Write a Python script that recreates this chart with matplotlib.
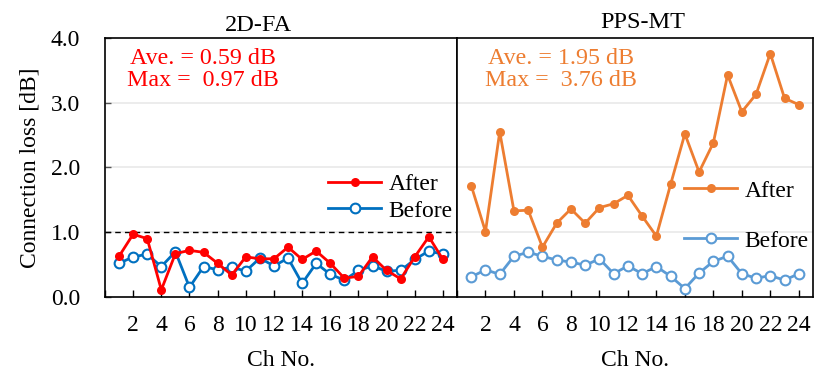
import numpy as np
import matplotlib
matplotlib.use('Agg')
import matplotlib.pyplot as plt

plt.rcParams['font.family'] = ['Liberation Serif', 'DejaVu Serif']

ch = np.arange(1, 25)

# 2D-FA
fa_after = [0.63, 0.97, 0.90, 0.11, 0.67, 0.72, 0.69, 0.52, 0.34, 0.62, 0.59, 0.59,
            0.77, 0.58, 0.71, 0.52, 0.29, 0.32, 0.62, 0.41, 0.28, 0.62, 0.93, 0.58]
fa_before = [0.52, 0.62, 0.66, 0.47, 0.70, 0.15, 0.47, 0.42, 0.46, 0.40, 0.60, 0.48,
             0.60, 0.21, 0.52, 0.35, 0.26, 0.41, 0.48, 0.40, 0.41, 0.58, 0.71, 0.66]

# PPS-MT
mt_after = [1.72, 1.01, 2.55, 1.33, 1.34, 0.77, 1.14, 1.36, 1.14, 1.38, 1.44, 1.57,
            1.25, 0.94, 1.74, 2.52, 1.93, 2.38, 3.43, 2.86, 3.13, 3.76, 3.07, 2.97]
mt_before = [0.31, 0.42, 0.35, 0.63, 0.69, 0.63, 0.57, 0.54, 0.49, 0.59, 0.36, 0.48,
             0.36, 0.47, 0.32, 0.13, 0.37, 0.55, 0.63, 0.36, 0.29, 0.33, 0.26, 0.36]

titles = ['2D-FA', 'PPS-MT']
ave_text = ['Ave. = 0.59 dB\nMax =  0.97 dB', 'Ave. = 1.95 dB\nMax =  3.76 dB']

FS = 17

fig = plt.figure(figsize=(8.19, 3.75), dpi=100)
ax1 = fig.add_axes([0.1282, 0.208, 0.4298, 0.6907])
ax2 = fig.add_axes([0.558, 0.208, 0.4347, 0.6907])

panels = [
    (ax1, fa_after, fa_before, '#FF0000', '#0070C0'),
    (ax2, mt_after, mt_before, '#ED7D31', '#5B9BD5'),
]
text_x = [0.279, 0.292]
title_x = [0.436, 0.521]
title_pad = [5, 7]
leg_anchor = [(0.634, 0.384), (0.638, 0.313)]
leg_space = [0.22, 1.2]

for i, (ax, after, before, c_after, c_before) in enumerate(panels):
    for g in [1, 2, 3]:
        ax.axhline(g, color='#EBEBEB', lw=1.3, zorder=0)
    ax.plot(ch, before, '-o', color=c_before, lw=2, ms=7,
            markerfacecolor='white', markeredgewidth=1.5, label='Before', zorder=3)
    ax.plot(ch, after, '-o', color=c_after, lw=2, ms=6.5,
            markeredgewidth=0, label='After', zorder=4)
    ax.set_xlim(0, 25)
    ax.set_ylim(0, 4.0)
    ax.set_xticks(np.arange(2, 25, 2))
    ax.set_xticks(np.arange(0, 26, 2), minor=True)
    ax.set_yticks([0, 1, 2, 3, 4])
    ax.tick_params(direction='in', labelsize=FS, length=5, width=1)
    ax.tick_params(axis='x', which='minor', direction='in', length=5, width=1)
    ax.tick_params(axis='x', pad=13)
    ax.tick_params(axis='y', length=4, color='#555555', pad=18)
    ax.set_title(titles[i], fontsize=17.5, x=title_x[i], pad=title_pad[i])
    ax.set_xlabel('Ch No.', fontsize=FS, labelpad=10)
    ax.text(text_x[i], 0.96, ave_text[i], transform=ax.transAxes, color=c_after,
            fontsize=17.3, ha='center', va='top', linespacing=1.05)
    for s in ax.spines.values():
        s.set_linewidth(1.2)
    h, l = ax.get_legend_handles_labels()
    ax.legend([h[1], h[0]], [l[1], l[0]], loc='center left',
              bbox_to_anchor=leg_anchor[i], frameon=False, fontsize=FS,
              handlelength=2.25, handletextpad=0.3, labelspacing=leg_space[i],
              borderpad=0, borderaxespad=0)

ax1.axhline(1.0, color='black', lw=1, ls=(0, (4, 3)), zorder=2)
ax1.set_yticklabels(['0.0', '1.0', '2.0', '3.0', '4.0'])
ax1.set_ylabel('Connection loss [dB]', fontsize=FS, labelpad=7)
ax2.set_yticklabels([])
ax2.tick_params(axis='y', length=0)

fig.savefig('out.png', dpi=100)
